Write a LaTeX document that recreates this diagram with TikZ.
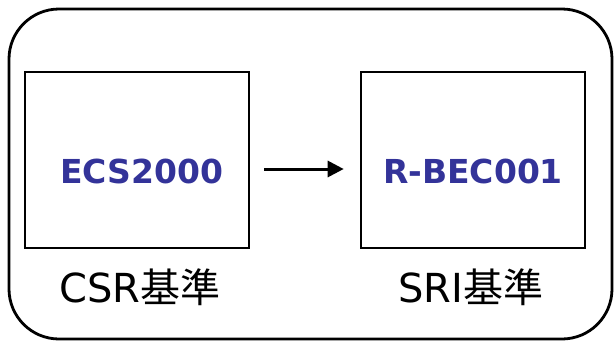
\documentclass[tikz,border=0pt]{standalone}
\usepackage{fontspec}
\setmainfont{DejaVu Sans}
\newfontfamily\cjkfont{Noto Sans CJK JP}
\usetikzlibrary{arrows.meta}
\definecolor{codeblue}{HTML}{333399}
\begin{document}
\begin{tikzpicture}[x=1pt,y=-1pt,
  frame/.style={draw=black,line width=2.8pt,rounded corners=50pt},
  stdbox/.style={draw=black,line width=2.6pt,minimum width=224pt,minimum height=176pt,inner sep=0pt},
  code/.style={text=codeblue,font=\fontsize{33}{38}\selectfont\bfseries,inner sep=0pt,anchor=base},
  lbl/.style={text=black,font=\fontsize{40}{46}\selectfont,inner sep=0pt,anchor=base},
  conn/.style={line width=3pt,-{Triangle[length=16pt,width=16pt]}}]
\useasboundingbox (0,0) rectangle (614,343);
\draw[frame] (9,9) rectangle (612,339);
\node[stdbox] (L) at (137,160) {};
\node[stdbox] (R) at (473,160) {};
\node[code] (lt) at (141.5,183) {ECS2000};
\node[code] (rt) at (473,183) {R-BEC001};
\node[lbl] (ll) at (140,302) {CSR{\cjkfont 基準}};
\node[lbl] (rl) at (471,302) {SRI{\cjkfont 基準}};
\draw[conn,shorten <=14pt,shorten >=16pt] ([yshift=-9pt]L.east) -- ([yshift=-9pt]R.west);
\end{tikzpicture}
\end{document}
